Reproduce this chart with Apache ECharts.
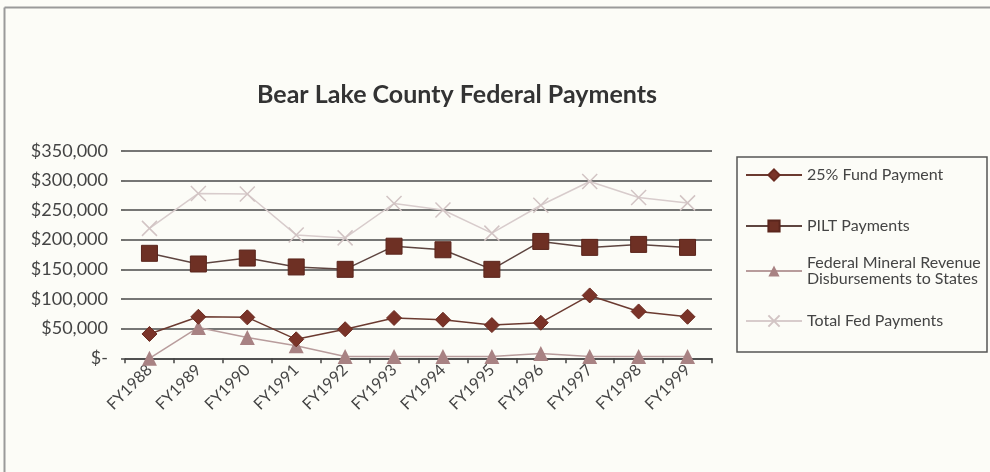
<!DOCTYPE html>
<html>
<head>
<meta charset="utf-8">
<script src="https://cdn.jsdelivr.net/npm/echarts@6/dist/echarts.min.js"></script>
<style>
  html, body { margin: 0; padding: 0; background: #fcfcf7; }
  #chart { width: 990px; height: 472px; }
</style>
</head>
<body>
<div id="chart"></div>
<script>
// Fiscal years on the category axis
const years = ['FY1988', 'FY1989', 'FY1990', 'FY1991', 'FY1992', 'FY1993',
               'FY1994', 'FY1995', 'FY1996', 'FY1997', 'FY1998', 'FY1999'];

// Payment series, in dollars
const fundPayment = [41000, 70000, 69000, 32000, 49000, 68000, 65000, 56000, 60000, 106000, 79000, 70000];
const piltPayments = [177000, 159000, 169000, 154000, 150000, 189000, 183000, 150000, 197000, 187000, 192000, 187000];
const mineralRevenue = [0, 52000, 35000, 21000, 3000, 3000, 3000, 3000, 8000, 3000, 3000, 3000];
const totalPayments = [219000, 278000, 277000, 208000, 203000, 261000, 250000, 211000, 258000, 298000, 271000, 262000];

const seriesNames = ['25% Fund Payment', 'PILT Payments',
  'Federal Mineral Revenue Disbursements to States', 'Total Fed Payments'];

// Value axis ticks
const yMin = 0, yMax = 350000, yStep = 50000;

const FONT = 'Lato, "Open Sans", sans-serif';
const crossPath = 'path://M0,0 L10,10 M10,0 L0,10';

function money(v) {
  if (v === 0) return '$-';
  return '$' + v.toLocaleString('en-US');
}

const chart = echarts.init(document.getElementById('chart'), null, { renderer: 'canvas' });

// one legend block per series so each entry sits at its own row inside the box
const legendTops = [167, 218, 255, 313];
const legends = seriesNames.map((n, i) => ({
  data: [n],
  left: 745,
  top: legendTops[i],
  orient: 'vertical',
  padding: 0,
  itemWidth: 56,
  itemHeight: 14,
  itemGap: 4,
  selectedMode: false,
  textStyle: { fontFamily: FONT, fontSize: 16, color: '#444', lineHeight: 16 },
  formatter: name => name.replace('Revenue ', 'Revenue\n')
}));

chart.setOption({
  backgroundColor: '#fcfcf7',
  animation: false,
  title: {
    text: 'Bear Lake County Federal Payments',
    left: 452,
    textAlign: 'center',
    top: 77,
    textStyle: { fontFamily: FONT, fontSize: 25, fontWeight: 'bold', color: '#333' }
  },
  graphic: [
    { type: 'line', shape: { x1: 4.5, y1: 7.5, x2: 990, y2: 7.5 }, style: { stroke: '#9a9a9a', lineWidth: 2 } },
    { type: 'line', shape: { x1: 4.5, y1: 7.5, x2: 4.5, y2: 472 }, style: { stroke: '#9a9a9a', lineWidth: 2 } },
    { type: 'rect', shape: { x: 737, y: 157, width: 250, height: 195 },
      style: { fill: 'none', stroke: '#555', lineWidth: 1.5 } }
  ],
  legend: legends,
  grid: { left: 125, right: 278, top: 150.7, bottom: 113.7, containLabel: false },
  xAxis: {
    type: 'category',
    data: years,
    boundaryGap: true,
    axisLine: { lineStyle: { color: '#444', width: 1.5 } },
    axisTick: { show: true, length: 5, lineStyle: { color: '#444', width: 1.5 } },
    axisLabel: { rotate: 45, margin: 9, fontFamily: FONT, fontSize: 16, color: '#444' }
  },
  yAxis: {
    type: 'value',
    min: yMin, max: yMax, interval: yStep,
    axisLine: { show: false },
    axisTick: { show: true, length: 4, lineStyle: { color: '#444', width: 1.5 } },
    splitLine: { lineStyle: { color: '#4a4a4a', width: 1.5 } },
    axisLabel: { formatter: money, margin: 17, fontFamily: FONT, fontSize: 18, color: '#444' }
  },
  series: [
    {
      name: seriesNames[0], type: 'line', data: fundPayment,
      symbol: 'diamond', symbolSize: 15,
      lineStyle: { color: '#6b3a30', width: 1.5 },
      itemStyle: { color: '#7a3328', borderColor: '#6a2a20', borderWidth: 1 },
      z: 4
    },
    {
      name: seriesNames[1], type: 'line', data: piltPayments,
      symbol: 'rect', symbolSize: 16,
      lineStyle: { color: '#5e4540', width: 1.5 },
      itemStyle: { color: '#6e3024', borderColor: '#5a251c', borderWidth: 1 },
      z: 4
    },
    {
      name: seriesNames[2], type: 'line', data: mineralRevenue,
      symbol: 'triangle', symbolSize: 15,
      lineStyle: { color: '#b89c9c', width: 1.5 },
      itemStyle: { color: '#a88283' },
      z: 3
    },
    {
      name: seriesNames[3], type: 'line', data: totalPayments,
      symbol: crossPath, symbolSize: 15,
      lineStyle: { color: '#d8cccc', width: 1.5 },
      itemStyle: { color: 'rgba(0,0,0,0)', borderColor: '#d2c4c4', borderWidth: 1.5 },
      z: 2
    }
  ]
});
</script>
</body>
</html>
